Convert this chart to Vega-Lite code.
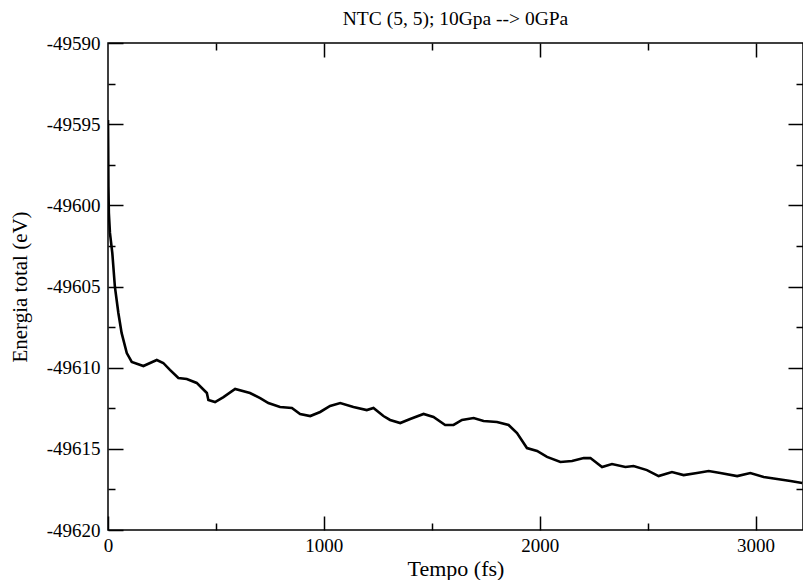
{
  "$schema": "https://vega.github.io/schema/vega-lite/v6.json",
  "autosize": "none",
  "width": 695,
  "height": 487,
  "padding": {"left": 108, "top": 43, "right": 0, "bottom": 50},
  "background": "white",
  "config": {
    "view": {"stroke": "#000", "strokeWidth": 1.5},
    "font": "Liberation Serif",
    "axis": {"grid": false, "domain": false, "tickColor": "#000", "tickWidth": 1.5, "labelColor": "#000", "titleColor": "#000", "labelFont": "Liberation Serif", "titleFont": "Liberation Serif", "titleFontWeight": "normal", "labelFlush": false, "labelOverlap": false}
  },
  "title": {"text": "NTC (5, 5); 10Gpa --> 0GPa", "anchor": "middle", "offset": 5, "fontSize": 19.5, "font": "Liberation Serif", "fontWeight": "normal", "color": "#000"},
  "data": {"values": [
    {"t": 0, "e": -49594.74},
    {"t": 1, "e": -49596.59},
    {"t": 2, "e": -49598.87},
    {"t": 4, "e": -49600.47},
    {"t": 9, "e": -49601.70},
    {"t": 20, "e": -49602.94},
    {"t": 32, "e": -49605.03},
    {"t": 48, "e": -49606.63},
    {"t": 63, "e": -49607.86},
    {"t": 87, "e": -49609.10},
    {"t": 110, "e": -49609.65},
    {"t": 164, "e": -49609.90},
    {"t": 195, "e": -49609.71},
    {"t": 226, "e": -49609.53},
    {"t": 256, "e": -49609.71},
    {"t": 287, "e": -49610.14},
    {"t": 326, "e": -49610.64},
    {"t": 365, "e": -49610.70},
    {"t": 411, "e": -49610.94},
    {"t": 458, "e": -49611.56},
    {"t": 465, "e": -49611.99},
    {"t": 496, "e": -49612.12},
    {"t": 535, "e": -49611.81},
    {"t": 589, "e": -49611.31},
    {"t": 658, "e": -49611.56},
    {"t": 705, "e": -49611.87},
    {"t": 743, "e": -49612.18},
    {"t": 797, "e": -49612.42},
    {"t": 852, "e": -49612.48},
    {"t": 890, "e": -49612.85},
    {"t": 937, "e": -49612.98},
    {"t": 983, "e": -49612.73},
    {"t": 1029, "e": -49612.36},
    {"t": 1076, "e": -49612.18},
    {"t": 1137, "e": -49612.42},
    {"t": 1199, "e": -49612.61},
    {"t": 1230, "e": -49612.48},
    {"t": 1276, "e": -49612.98},
    {"t": 1307, "e": -49613.22},
    {"t": 1354, "e": -49613.41},
    {"t": 1400, "e": -49613.16},
    {"t": 1462, "e": -49612.85},
    {"t": 1508, "e": -49613.04},
    {"t": 1562, "e": -49613.53},
    {"t": 1601, "e": -49613.53},
    {"t": 1640, "e": -49613.22},
    {"t": 1694, "e": -49613.10},
    {"t": 1740, "e": -49613.29},
    {"t": 1802, "e": -49613.35},
    {"t": 1856, "e": -49613.53},
    {"t": 1895, "e": -49614.03},
    {"t": 1941, "e": -49614.95},
    {"t": 1988, "e": -49615.13},
    {"t": 2034, "e": -49615.50},
    {"t": 2096, "e": -49615.81},
    {"t": 2150, "e": -49615.75},
    {"t": 2204, "e": -49615.57},
    {"t": 2235, "e": -49615.57},
    {"t": 2289, "e": -49616.12},
    {"t": 2335, "e": -49615.94},
    {"t": 2397, "e": -49616.12},
    {"t": 2435, "e": -49616.06},
    {"t": 2497, "e": -49616.31},
    {"t": 2551, "e": -49616.68},
    {"t": 2613, "e": -49616.43},
    {"t": 2667, "e": -49616.62},
    {"t": 2729, "e": -49616.49},
    {"t": 2783, "e": -49616.37},
    {"t": 2837, "e": -49616.49},
    {"t": 2915, "e": -49616.68},
    {"t": 2976, "e": -49616.49},
    {"t": 3038, "e": -49616.74},
    {"t": 3100, "e": -49616.86},
    {"t": 3162, "e": -49616.98},
    {"t": 3216, "e": -49617.11}
  ]},
  "resolve": {"axis": {"x": "independent", "y": "independent"}},
  "layer": [
    {
      "mark": {"type": "line", "color": "#000", "strokeWidth": 2.6, "clip": true},
      "encoding": {
        "x": {"field": "t", "type": "quantitative", "scale": {"domain": [0, 3220], "nice": false, "zero": false},
          "axis": {"orient": "bottom", "values": [0, 1000, 2000, 3000], "labelExpr": "'' + datum.value", "tickSize": -14, "labelPadding": 20, "labelFont": "Liberation Serif", "labelFontSize": 19, "title": "Tempo (fs)", "titleFont": "Liberation Serif", "titleFontSize": 22, "titleY": 38, "titleBaseline": "middle", "titleX": 347.5, "titleAlign": "center"}},
        "y": {"field": "e", "type": "quantitative", "scale": {"domain": [-49620, -49590], "nice": false, "zero": false},
          "axis": {"orient": "left", "values": [-49590, -49595, -49600, -49605, -49610, -49615, -49620], "labelExpr": "'' + datum.value", "tickSize": -15, "labelPadding": 23, "labelFont": "Liberation Serif", "labelFontSize": 19, "title": "Energia total (eV)", "titleFont": "Liberation Serif", "titleFontSize": 21, "titleAngle": -90, "titleX": -88, "titleY": 243.5, "titleAlign": "center", "titleBaseline": "middle"}}
      }
    },
    {
      "mark": {"type": "line", "strokeOpacity": 0},
      "encoding": {
        "x": {"field": "t", "type": "quantitative", "axis": {"orient": "bottom", "values": [500, 1500, 2500], "tickSize": -7, "labels": false, "title": null}},
        "y": {"field": "e", "type": "quantitative", "axis": {"orient": "left", "values": [-49592.5, -49597.5, -49602.5, -49607.5, -49612.5, -49617.5], "tickSize": -7, "labels": false, "title": null}}
      }
    },
    {
      "mark": {"type": "line", "strokeOpacity": 0},
      "encoding": {
        "x": {"field": "t", "type": "quantitative", "axis": {"orient": "top", "values": [1000, 2000, 3000], "tickSize": -14, "labels": false, "title": null}},
        "y": {"field": "e", "type": "quantitative", "axis": {"orient": "right", "values": [-49595, -49600, -49605, -49610, -49615], "tickSize": -15, "labels": false, "title": null}}
      }
    },
    {
      "mark": {"type": "line", "strokeOpacity": 0},
      "encoding": {
        "x": {"field": "t", "type": "quantitative", "axis": {"orient": "top", "values": [500, 1500, 2500], "tickSize": -7, "labels": false, "title": null}},
        "y": {"field": "e", "type": "quantitative", "axis": {"orient": "right", "values": [-49592.5, -49597.5, -49602.5, -49607.5, -49612.5, -49617.5], "tickSize": -7, "labels": false, "title": null}}
      }
    }
  ]
}
